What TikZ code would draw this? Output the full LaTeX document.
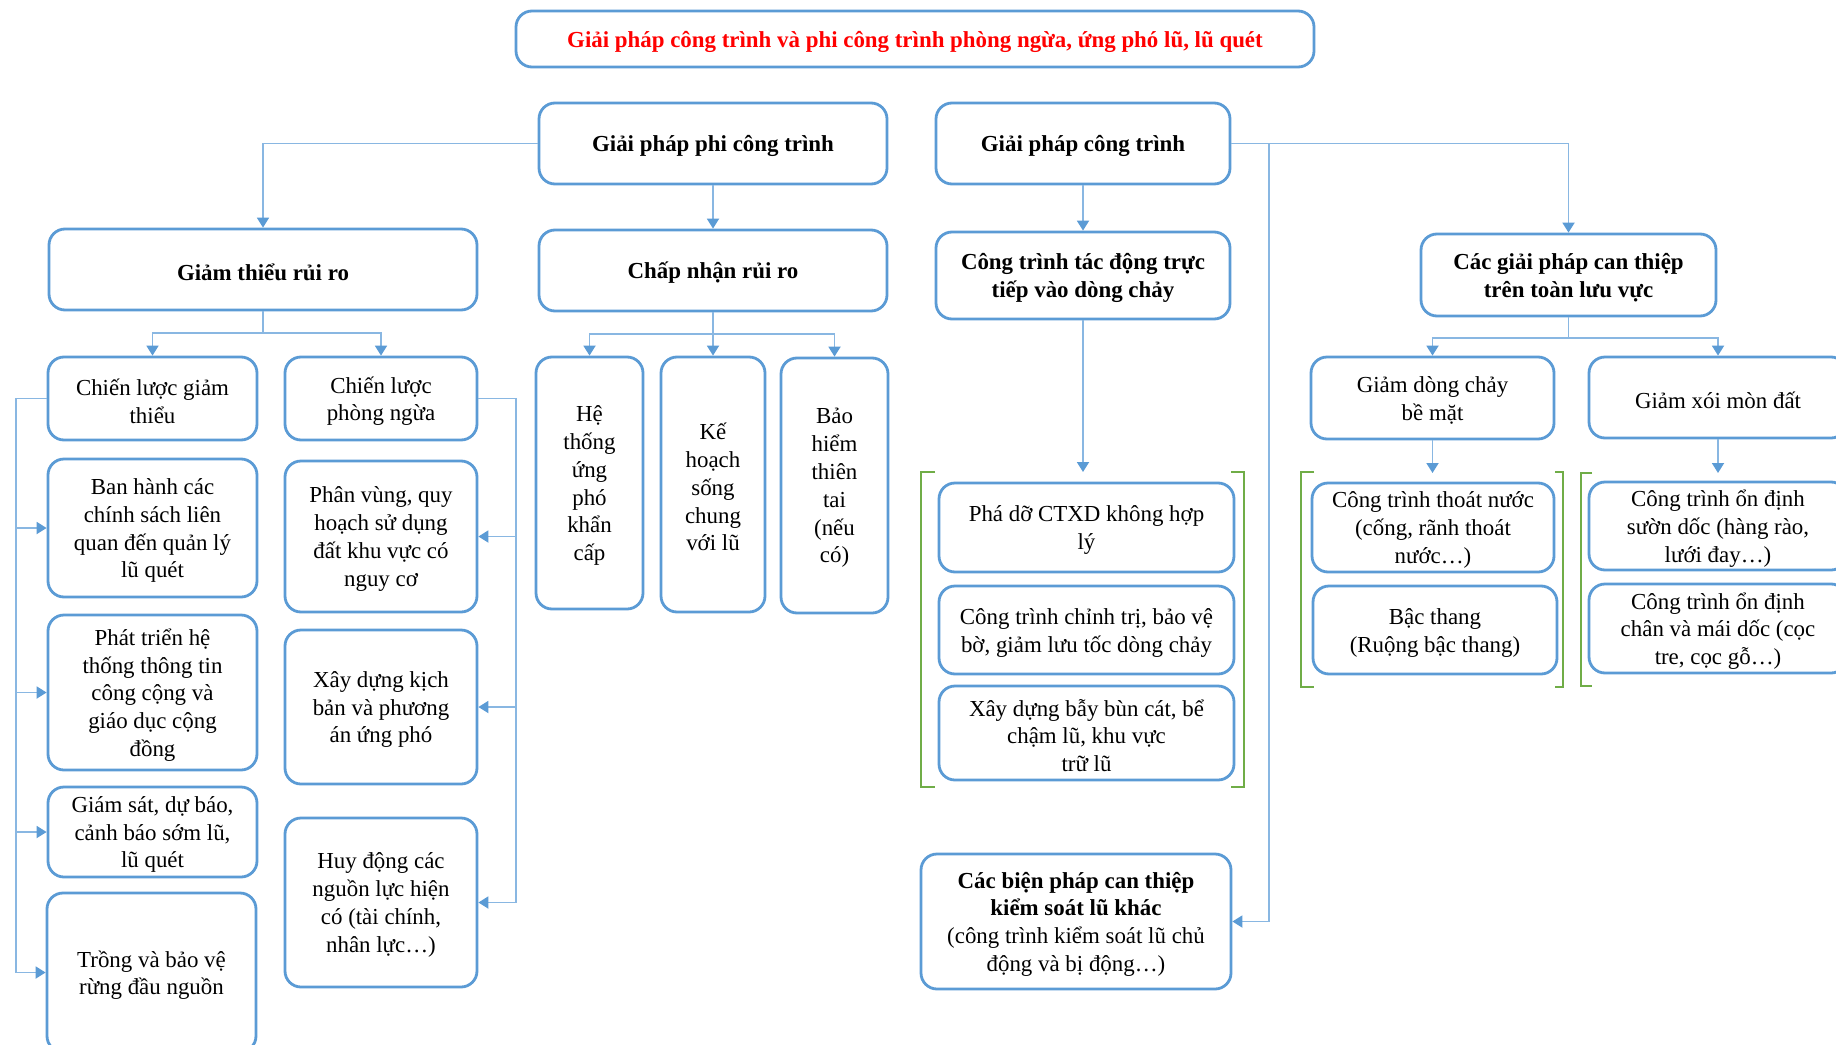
\documentclass[tikz,border=0pt]{standalone}
\usepackage{fontspec}
\setmainfont{Liberation Serif}
\usetikzlibrary{arrows.meta}
\definecolor{boxblue}{RGB}{91,155,213}
\definecolor{linkblue}{RGB}{137,183,226}
\definecolor{brkgreen}{RGB}{112,173,71}
\definecolor{titlered}{RGB}{255,0,0}

\tikzset{
  frame/.style={draw=boxblue, line width=1.4pt, rounded corners=8pt, fill=white, inner sep=0pt},
  txt/.style={align=center, inner sep=0pt, font=\fontsize{11.45}{13.9}\selectfont},
  bold/.style={font=\fontsize{11.45}{13.9}\selectfont\bfseries},
  link/.style={draw=linkblue, line width=0.9pt},
  conn/.style={link, -{Triangle[width=6pt,length=5pt,color=boxblue]}},
  brk/.style={draw=brkgreen, line width=1.2pt},
}

% box given by its corners (left, top, right, bottom) in pixel units;
% the frame is node #2, its text is node #2-t, set a little below centre
\newcommand\bx[7][]{%
  \pgfmathsetmacro\myW{(#5-#3)*0.5}%
  \pgfmathsetmacro\myH{(#6-#4)*0.5}%
  \node[frame,minimum width=\myW pt,minimum height=\myH pt] (#2) at ({(#3+#5)/2},{(#4+#6)/2}) {};%
  \node[txt,#1] (#2-t) at ([yshift=-1.3pt]#2.center) {#7};%
}

\begin{document}
\begin{tikzpicture}[x=0.5pt,y=-0.5pt]
\clip (0,0) rectangle (1836,1044);
\fill[white] (0,0) rectangle (1836,1044);

% headings
\bx[bold,text=titlered]{title}{516}{11}{1314}{67}{Giải pháp công trình và phi công trình phòng ngừa, ứng phó lũ, lũ quét}
\bx[bold]{pct}{539}{103}{887}{184}{Giải pháp phi công trình}
\bx[bold]{gpct}{936}{103}{1230}{184}{Giải pháp công trình}
\bx[bold]{gttr}{49}{229}{477}{310}{Giảm thiểu rủi ro}
\bx[bold]{cnrr}{539}{230}{887}{311}{Chấp nhận rủi ro}
\bx[bold]{ctdt}{936}{232}{1230}{319}{Công trình tác động trực\\tiếp vào dòng chảy}
\bx[bold]{cgp}{1421}{234}{1716}{316}{Các giải pháp can thiệp\\trên toàn lưu vực}

% risk reduction
\bx{clgt}{48}{357}{257}{440}{Chiến lược giảm\\thiểu}
\bx{clpn}{285}{357}{477}{440}{Chiến lược\\phòng ngừa}
\bx{bh}{48}{459}{257}{597}{Ban hành các\\chính sách liên\\quan đến quản lý\\lũ quét}
\bx{pt}{48}{615}{257}{770}{Phát triển hệ\\thống thông tin\\công cộng và\\giáo dục cộng\\đồng}
\bx{gs}{48}{787}{257}{877}{Giám sát, dự báo,\\cảnh báo sớm lũ,\\lũ quét}
\bx{tr}{47}{893}{256}{1052}{Trồng và bảo vệ\\rừng đầu nguồn}
\bx{pv}{285}{461}{477}{612}{Phân vùng, quy\\hoạch sử dụng\\đất khu vực có\\nguy cơ}
\bx{xd}{285}{630}{477}{784}{Xây dựng kịch\\bản và phương\\án ứng phó}
\bx{hd}{285}{818}{477}{987}{Huy động các\\nguồn lực hiện\\có (tài chính,\\nhân lực…)}

% risk acceptance
\bx{hts}{536}{357}{643}{609}{Hệ\\thống\\ứng\\phó\\khẩn\\cấp}
\bx{kh}{661}{357}{765}{612}{Kế\\hoạch\\sống\\chung\\với lũ}
\bx{bhtt}{781}{358}{888}{613}{Bảo\\hiểm\\thiên\\tai\\(nếu\\có)}

% structural works on the flow
\bx{pd}{939}{483}{1234}{572}{Phá dỡ CTXD không hợp\\lý}
\bx{ctct}{939}{586}{1234}{674}{Công trình chỉnh trị, bảo vệ\\bờ, giảm lưu tốc dòng chảy}
\bx{xdb}{939}{686}{1234}{780}{Xây dựng bẫy bùn cát, bể\\chậm lũ, khu vực\\trữ lũ}
\bx{cbp}{921}{854}{1231}{989}{\textbf{Các biện pháp can thiệp}\\\textbf{kiểm soát lũ khác}\\(công trình kiểm soát lũ chủ\\động và bị động…)}

% catchment-wide measures
\bx{gdc}{1311}{357}{1554}{439}{Giảm dòng chảy\\bề mặt}
\bx{gxm}{1589}{357}{1847}{438}{Giảm xói mòn đất}
\bx{ctn}{1312}{483}{1554}{572}{Công trình thoát nước\\(cống, rãnh thoát\\nước…)}
\bx{bt}{1313}{586}{1557}{674}{Bậc thang\\(Ruộng bậc thang)}
\bx{sd}{1589}{482}{1847}{570}{Công trình ổn định\\sườn dốc (hàng rào,\\lưới đay…)}
\bx{cm}{1589}{584}{1847}{673}{Công trình ổn định\\chân và mái dốc (cọc\\tre, cọc gỗ…)}

% junction points
\coordinate (j1) at (263,333);
\coordinate (j2) at (713,334);
\coordinate (j3) at (1568.5,338);
\coordinate (j5) at (1269,143.5);
\coordinate (g1) at (1083,472);
\coordinate (g2) at (1432.5,473);
\coordinate (g3) at (1718,473);
\coordinate (L) at (16,0);
\coordinate (R) at (516,0);

% connectors
\draw[conn] (pct.west) -| (gttr.north);
\draw[conn] (pct.south) -- (cnrr.north);
\draw[conn] (gpct.south) -- (ctdt.north);
\draw[conn] (gpct.east) -| (cgp.north);
\draw[conn] (j5) |- (cbp.east);

\draw[link] (gttr.south) -- (j1);
\draw[conn] (j1) -| (clgt.north);
\draw[conn] (j1) -| (clpn.north);

\draw[conn] (cnrr.south) -- (kh.north);
\draw[conn] (j2) -| (hts.north);
\draw[conn] (j2) -| (bhtt.north);

\draw[conn] (ctdt.south) -- (g1);

\draw[link] (cgp.south) -- (j3);
\draw[conn] (j3) -| (gdc.north);
\draw[conn] (j3) -| (gxm.north);
\draw[conn] (gdc.south) -- (g2);
\draw[conn] (gxm.south) -- (g3);

\draw[link] (clgt.west) -| (L |- tr.west);
\foreach \n in {bh,pt,gs,tr} \draw[conn] (L |- \n.west) -- (\n.west);
\draw[link] (clpn.east) -| (R |- hd.east);
\foreach \n in {pv,xd,hd} \draw[conn] (R |- \n.east) -- (\n.east);

% group brackets
\draw[brk] (935,472) -- (921,472) -- (921,787) -- (935,787);
\draw[brk] (1231,472) -- (1244,472) -- (1244,787) -- (1231,787);
\draw[brk] (1314,472) -- (1301,472) -- (1301,687) -- (1314,687);
\draw[brk] (1555,472) -- (1563,472) -- (1563,687) -- (1555,687);
\draw[brk] (1592,473) -- (1581,473) -- (1581,686) -- (1592,686);
\end{tikzpicture}
\end{document}
